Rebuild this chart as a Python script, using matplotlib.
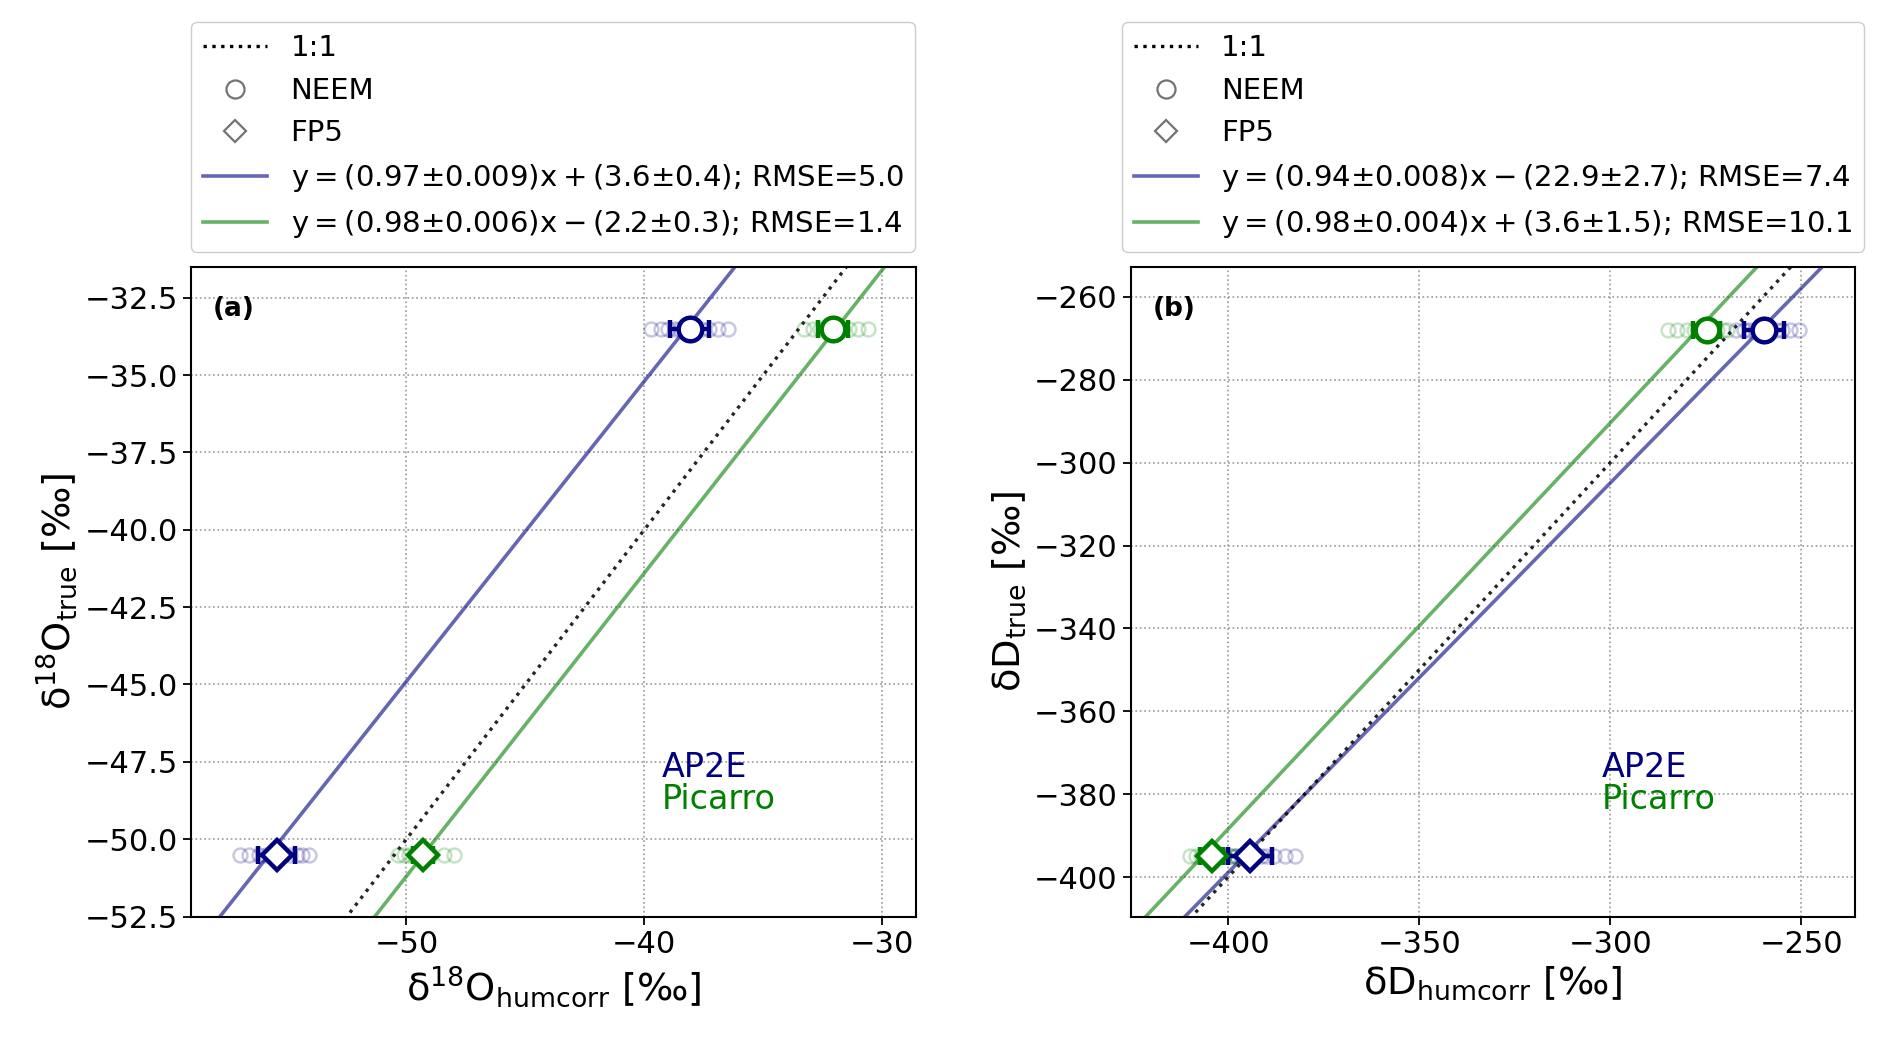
import numpy as np
import matplotlib
matplotlib.use("Agg")
import matplotlib.pyplot as plt
from matplotlib.lines import Line2D
from matplotlib.ticker import MultipleLocator

plt.rcParams["mathtext.default"] = "regular"
plt.rcParams["font.family"] = ["DejaVu Sans"]

# ---- data ----
# true values of the two standards
d18o_true = {"NEEM": -33.5, "FP5": -50.5}
dd_true = {"NEEM": -268.0, "FP5": -395.0}

# individual humidity-corrected measurements (faint points)
d18o_ap2e_neem = [-39.7, -39.3, -39.0, -38.7, -38.5, -38.3, -38.1, -37.9, -37.6, -37.3, -36.9, -36.5]
d18o_pic_neem = [-33.3, -32.9, -32.6, -32.4, -32.2, -32.0, -31.9, -31.7, -31.4, -31.0, -30.6]
d18o_ap2e_fp5 = [-57.0, -56.6, -56.2, -55.9, -55.6, -55.4, -55.2, -54.9, -54.6, -54.4, -54.1]
d18o_pic_fp5 = [-50.35, -50.1, -49.9, -49.7, -49.5, -49.35, -49.2, -48.95, -48.4, -48.0]

dd_ap2e_neem = [-267, -265, -263.5, -262, -261, -260, -259, -258, -256.5, -255, -253, -250.5]
dd_pic_neem = [-285, -282.5, -280, -278, -277, -276, -275, -274, -273, -272, -270.5, -269.5]
dd_ap2e_fp5 = [-401, -399, -398, -396.5, -395, -394, -393, -391.5, -390, -388, -385, -382.5]
dd_pic_fp5 = [-410, -408.5, -407, -406, -405, -404.5, -403.5, -402.5, -401, -399.5, -398]

# means and std (big markers + error bars)
d18o_mean = {"AP2E": {"NEEM": -38.1, "FP5": -55.45}, "Picarro": {"NEEM": -32.05, "FP5": -49.3}}
d18o_std = {"AP2E": {"NEEM": 0.8, "FP5": 0.78}, "Picarro": {"NEEM": 0.63, "FP5": 0.42}}
dd_mean = {"AP2E": {"NEEM": -259.7, "FP5": -394.2}, "Picarro": {"NEEM": -274.7, "FP5": -404.3}}
dd_std = {"AP2E": {"NEEM": 5.3, "FP5": 5.8}, "Picarro": {"NEEM": 3.5, "FP5": 3.0}}

# regression fits: slope, intercept
fit_d18o = {"AP2E": (0.97, 3.6), "Picarro": (0.98, -2.2)}
fit_dd = {"AP2E": (0.94, -22.9), "Picarro": (0.98, 3.6)}
lab_d18o = {"AP2E": "$y = (0.97±0.009)x + (3.6±0.4)$; RMSE=5.0",
            "Picarro": "$y = (0.98±0.006)x - (2.2±0.3)$; RMSE=1.4"}
lab_dd = {"AP2E": "$y = (0.94±0.008)x - (22.9±2.7)$; RMSE=7.4",
          "Picarro": "$y = (0.98±0.004)x + (3.6±1.5)$; RMSE=10.1"}

colors = {"AP2E": "navy", "Picarro": "green"}
marks = {"NEEM": "o", "FP5": "D"}

fig = plt.figure(figsize=(18.92, 10.37), dpi=100)
ax1 = fig.add_axes([0.101, 0.1162, 0.3829, 0.6266])
ax2 = fig.add_axes([0.5978, 0.1162, 0.3825, 0.6266])


def draw_panel(ax, raw, true, mean, std, fit, labels, xlim, ylim, one_to_one):
    xs = np.array([-1000.0, 1000.0])
    ax.plot(one_to_one, one_to_one, ls=":", color="black", lw=2.4, alpha=0.85, zorder=3)
    for inst in ["AP2E", "Picarro"]:
        m, b = fit[inst]
        ax.plot(xs, m * xs + b, color=colors[inst], lw=2.6, alpha=0.6, zorder=2)
    for inst in ["AP2E", "Picarro"]:
        for std_name in ["NEEM", "FP5"]:
            vals = raw[inst][std_name]
            ax.plot(vals, [true[std_name]] * len(vals), ls="none", marker="o", ms=10,
                    mfc="none", mec=colors[inst], mew=1.8, alpha=0.22, zorder=4)
    for inst in ["AP2E", "Picarro"]:
        for std_name in ["NEEM", "FP5"]:
            ax.errorbar(mean[inst][std_name], true[std_name], xerr=std[inst][std_name],
                        fmt=marks[std_name], ms=17 if std_name == "NEEM" else 15.5,
                        mfc="white", mec=colors[inst], mew=3.2, ecolor=colors[inst],
                        elinewidth=3.2, capsize=6.5, capthick=3.2, zorder=5)
    ax.set_xlim(xlim)
    ax.set_ylim(ylim)
    ax.grid(True, ls=":", color="0.6", lw=1.2)
    ax.tick_params(labelsize=22, width=1.3, length=6)
    for s in ax.spines.values():
        s.set_linewidth(1.5)
    ax.text(0.65, 0.23, "AP2E", color="navy", fontsize=24, transform=ax.transAxes, va="center")
    ax.text(0.65, 0.18, "Picarro", color="green", fontsize=24, transform=ax.transAxes, va="center")

    handles = [Line2D([], [], ls=":", color="black", lw=2.4),
               Line2D([], [], ls="none", marker="o", ms=13, mfc="none", mec="0.45", mew=1.6),
               Line2D([], [], ls="none", marker="D", ms=11.5, mfc="none", mec="0.45", mew=1.6),
               Line2D([], [], color="navy", lw=2.6, alpha=0.6),
               Line2D([], [], color="green", lw=2.6, alpha=0.6)]
    names = ["1:1", "NEEM", "FP5", labels["AP2E"], labels["Picarro"]]
    ax.legend(handles, names, loc="lower center", bbox_to_anchor=(0.5, 1.0),
              fontsize=21, framealpha=1, edgecolor="0.8", handlelength=2.2)


raw_d18o = {"AP2E": {"NEEM": d18o_ap2e_neem, "FP5": d18o_ap2e_fp5},
            "Picarro": {"NEEM": d18o_pic_neem, "FP5": d18o_pic_fp5}}
raw_dd = {"AP2E": {"NEEM": dd_ap2e_neem, "FP5": dd_ap2e_fp5},
          "Picarro": {"NEEM": dd_pic_neem, "FP5": dd_pic_fp5}}

draw_panel(ax1, raw_d18o, d18o_true, d18o_mean, d18o_std, fit_d18o, lab_d18o,
           (-59.05, -28.6), (-52.5, -31.5), [-52.6, -20])
draw_panel(ax2, raw_dd, dd_true, dd_mean, dd_std, fit_dd, lab_dd,
           (-425.4, -236.0), (-409.5, -252.7), [-408.5, -200])

ax1.xaxis.set_major_locator(MultipleLocator(10))
ax1.yaxis.set_major_locator(MultipleLocator(2.5))
ax1.yaxis.set_major_formatter(matplotlib.ticker.FuncFormatter(lambda v, p: f"{v:.1f}".replace("-", "\u2212")))
ax2.xaxis.set_major_locator(MultipleLocator(50))
ax2.yaxis.set_major_locator(MultipleLocator(20))

ax1.set_xlabel("$\\delta^{18}O_{humcorr}$ [‰]", fontsize=27.5)
ax1.set_ylabel("$\\delta^{18}O_{true}$ [‰]", fontsize=27.5)
ax2.set_xlabel("$\\delta D_{humcorr}$ [‰]", fontsize=27.5)
ax2.set_ylabel("$\\delta D_{true}$ [‰]", fontsize=27.5)

ax1.text(0.03, 0.935, "(a)", fontsize=19, fontweight="bold", transform=ax1.transAxes, va="center")
ax2.text(0.03, 0.935, "(b)", fontsize=19, fontweight="bold", transform=ax2.transAxes, va="center")

fig.savefig("out.png", dpi=100)
